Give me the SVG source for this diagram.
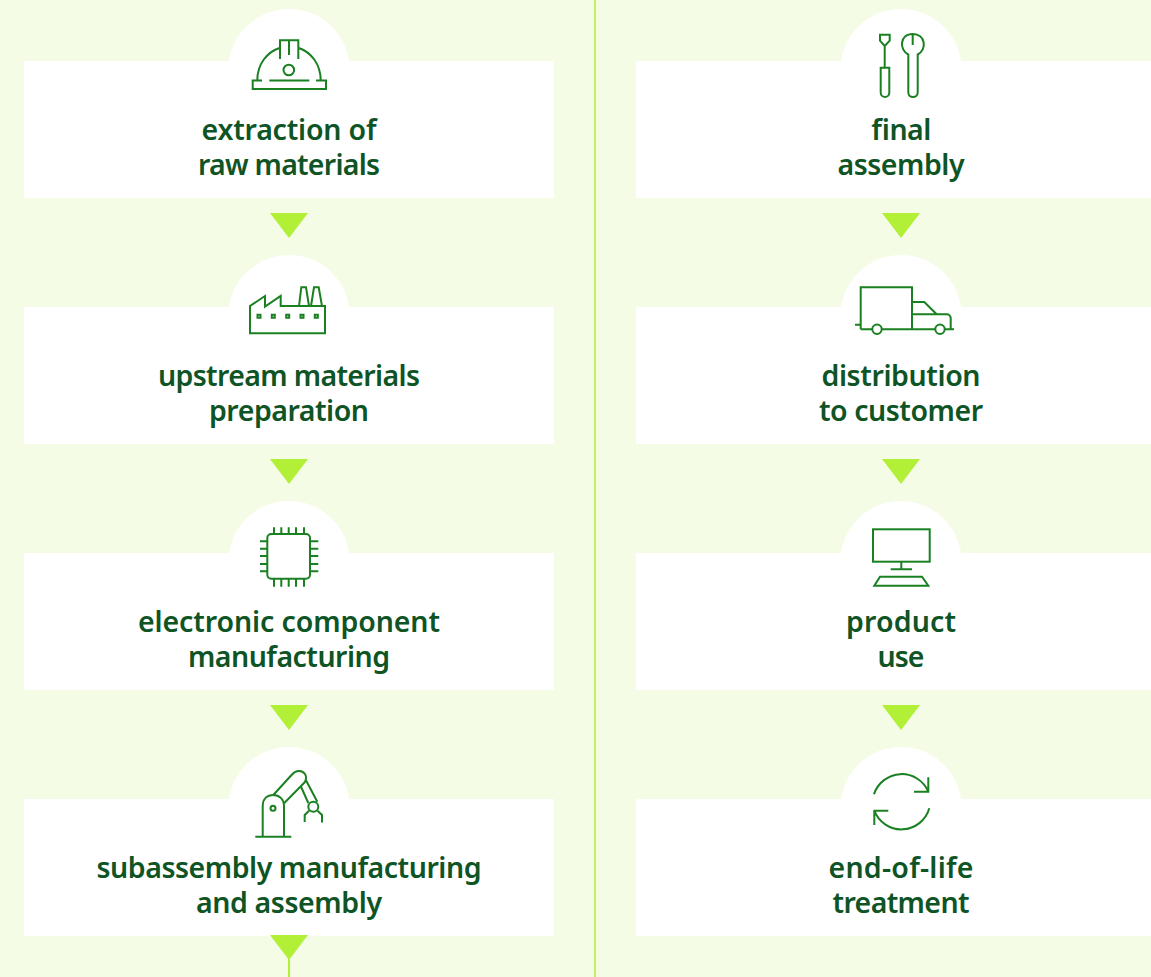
<svg xmlns="http://www.w3.org/2000/svg" width="1151" height="977" viewBox="0 0 1151 977">
<style>
.card{fill:#fff}
.ic{fill:none;stroke:#1a8021;stroke-width:2;stroke-linejoin:miter}
.t{font-family:"Noto Sans","Open Sans","Liberation Sans",sans-serif;font-weight:600;font-size:28.5px;fill:#0e5425;text-anchor:middle}
.tri{fill:#b2f038}
.ln{stroke:#b2f038;stroke-width:2;fill:none}
</style>
<defs>
<g id="card-l"><circle class="card" cx="289" cy="69.6" r="60.6"/><rect class="card" x="24" y="61" width="530" height="137"/></g>
<g id="card-r"><circle class="card" cx="901" cy="69.6" r="60.6"/><rect class="card" x="636" y="61" width="515" height="137"/></g>
</defs>
<rect width="1151" height="977" fill="#f4fce6"/>
<g id="node-extraction">
<use href="#card-l"/>
<path class="ic" d="M262 80.500H252.700V89H326V80.500H316M269.300 80.500H309.300M257.300 80.500C257.300 64 267 52 280 47.700M298.300 47.700C311 52 320.700 64 320.700 80.500M280 59V40.300H298.300V59M289 40.300V55"/>
<circle class="ic" cx="288.800" cy="70" r="5.300"/>
<text class="t" x="289" y="140" textLength="175">extraction of</text>
<text class="t" x="289" y="175" textLength="182">raw materials</text>
</g>
<g id="node-upstream">
<use href="#card-l" y="246"/>
<path class="ic" d="M250 333.300V306L265 296V306.700L280.700 296V306H325V333.300ZM299 306L301.300 287.300H306L309 306M311 306L314 287.300H318.700L322 306"/>
<path class="ic" d="M257.500 314.800h3v3h-3zm14.300 0h3v3h-3zm14.400 0h3v3h-3zm14.300 0h3v3h-3zm14.300 0h3v3h-3z"/>
<text class="t" x="289" y="386" textLength="262">upstream materials</text>
<text class="t" x="289" y="421" textLength="160">preparation</text>
</g>
<g id="node-electronic">
<use href="#card-l" y="492"/>
<rect class="ic" x="267.300" y="534" width="42.700" height="44.700" rx="4"/>
<path class="ic" d="M274 527.300V534M281.300 527.300V534M288.700 527.300V534M296 527.300V534M304 527.300V534M274 579V586.700M281.300 579V586.700M288.700 579V586.700M296 579V586.700M304 579V586.700M260 541.300H267.300M260 548.700H267.300M260 556H267.300M260 564H267.300M260 571.300H267.300M310 541.300H318.300M310 548.700H318.300M310 556H318.300M310 564H318.300M310 571.300H318.300"/>
<text class="t" x="289" y="632" textLength="302">electronic component</text>
<text class="t" x="289" y="667" textLength="202">manufacturing</text>
</g>
<g id="node-subassembly">
<use href="#card-l" y="738"/>
<path class="ic" d="M255.300 836.700H291.300M262.700 836.700V806C262.700 799 267 795 273.300 795C279 795 284 799 284 806V836.700M273.300 795L292 774.500C296 770 302 770 305 774C307 777 306 781 304 783L283.800 803.500M300.700 786L308.300 803M305.300 779L317.300 801.700M309 810.700L304.700 815V822M317.500 810.700L322 815V822.500"/>
<circle class="ic" cx="273" cy="808.300" r="2.500"/>
<circle class="ic" cx="313.300" cy="806.700" r="5"/>
<text class="t" x="289" y="878" textLength="385">subassembly manufacturing</text>
<text class="t" x="289" y="913" textLength="186">and assembly</text>
</g>
<g id="node-final">
<use href="#card-r"/>
<path class="ic" d="M880 34.700H889.700V40.700L884.700 46L880 40.700ZM884.700 46V67.700M880.700 67.700H889.300V92.500C889.300 98.500 880.700 98.500 880.700 92.500ZM912.700 34V45M908.300 54.500V92.500C908.300 98.500 917.700 98.500 917.700 92.500V54.500C927 50 926 34 912.700 34C899.500 34 899 50 908.300 54.500Z"/>
<text class="t" x="901" y="140" textLength="60">final</text>
<text class="t" x="901" y="175" textLength="127">assembly</text>
</g>
<g id="node-distribution">
<use href="#card-r" y="246"/>
<path class="ic" d="M855 324.700H860.700M860.700 329.300V287.300H912V329.300M860.700 329.300H872.300M881.700 329.300H935.300M944.700 329.300H954M912 302H924.300L936.700 314.300M912 314.300H946.700C949 314.300 950.700 316 950.700 318.300V329.300"/>
<circle class="ic" cx="877" cy="329.300" r="4.700"/>
<circle class="ic" cx="940" cy="329.300" r="4.700"/>
<text class="t" x="901" y="386" textLength="159">distribution</text>
<text class="t" x="901" y="421" textLength="164">to customer</text>
</g>
<g id="node-use">
<use href="#card-r" y="492"/>
<rect class="ic" x="873" y="529.300" width="56.700" height="32.400"/>
<path class="ic" d="M901.300 561.700V569.300M890.700 569.300H912M880 576.700H922L928.300 585.700H874.300Z"/>
<text class="t" x="901" y="632" textLength="110">product</text>
<text class="t" x="901" y="667" textLength="47">use</text>
</g>
<g id="node-eol">
<use href="#card-r" y="738"/>
<path class="ic" d="M874 794.300A29 29 0 0 1 928.300 791.700M914 791.700H928.300V777.300M929.300 808.300A29 29 0 0 1 874.300 810.700M888.300 810.700H874.300V825"/>
<text class="t" x="901" y="878" textLength="145">end-of-life</text>
<text class="t" x="901" y="913" textLength="137">treatment</text>
</g>
<g id="connectors">
<line x1="595" y1="0" x2="595" y2="977" stroke="#b2f038" stroke-width="1.500"/>
<line class="ln" x1="289" y1="958" x2="289" y2="977"/>
<path class="tri" d="M270 213H308L289 238Z"/>
<path class="tri" d="M270 459H308L289 484Z"/>
<path class="tri" d="M270 705H308L289 730Z"/>
<path class="tri" d="M270 935H308L289 960Z"/>
<path class="tri" d="M882 213H920L901 238Z"/>
<path class="tri" d="M882 459H920L901 484Z"/>
<path class="tri" d="M882 705H920L901 730Z"/>
</g>
</svg>
